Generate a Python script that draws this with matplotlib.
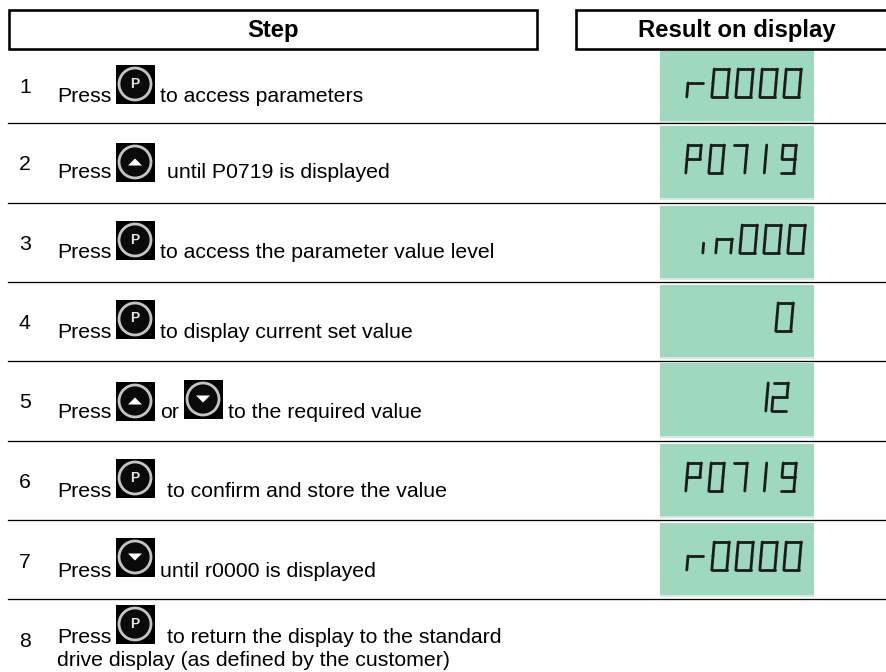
import matplotlib
matplotlib.use('Agg')
import matplotlib.pyplot as plt
from matplotlib.patches import Rectangle, Circle, Polygon

plt.rcParams['font.family'] = ['Liberation Sans', 'DejaVu Sans']

step_numbers = ['1', '2', '3', '4', '5', '6', '7', '8']
step_texts = [
    'to access parameters',
    'until P0719 is displayed',
    'to access the parameter value level',
    'to display current set value',
    'to the required value',
    'to confirm and store the value',
    'until r0000 is displayed',
    'to return the display to the standard',
]
step_icons = [['P'], ['up'], ['P'], ['P'], ['up', 'down'], ['P'], ['down'], ['P']]
last_line = 'drive display (as defined by the customer)'
display_values = ['r0000', 'P0719', 'in000', '0', '12', 'P0719', 'r0000']
headers = ['Step', 'Result on display']

# pixel layout, y goes down
W, H = 886, 672
num_base = [93, 170, 250, 329, 408, 488, 568, 647]
text_base = [102, 178, 258, 338, 418, 497, 577, 643]
icon_top = [65, 143, 221, 300, 382, 459, 538, 605]
text_x = [160, 167, 160, 160, 228, 167, 160, 167]
row_lines = [123, 203, 282, 361, 441, 520, 599]
green_top = [50, 126, 206, 285, 363, 444, 523]
green_bot = [122, 199, 279, 358, 437, 517, 596]
digit_top = [69, 145, 225, 303, 383, 463, 542]
digit_x = [
    [686, 711, 735, 759, 783],
    [685, 708, 731, 757, 780],
    [702, 715, 739, 763, 787],
    [775],
    [758, 771],
    [685, 708, 731, 757, 780],
    [686, 711, 735, 759, 783],
]
digit_w = [20, 18, 20, 20, 19, 18, 20]

GREEN = '#9dd8bf'
FS = 15.3

# seven segments, x from 0 to 1, y from 0 (top) to 2 (bottom)
SEGS = {
    'a': [(0, 0), (1, 0)], 'b': [(1, 0), (1, 1)], 'c': [(1, 1), (1, 2)],
    'd': [(0, 2), (1, 2)], 'e': [(0, 1), (0, 2)], 'f': [(0, 0), (0, 1)],
    'g': [(0, 1), (1, 1)], 'h': [(0.5, 0), (0.5, 1)], 'j': [(0.5, 1), (0.5, 2)],
    'k': [(0, 1.3), (0, 2)],
}
GLYPHS = {
    '0': 'abcdef', '1': 'hj', '2': 'abged', '7': 'abc', '9': 'abcdfg',
    'P': 'abefg', 'r': 'eg', 'n': 'egc', 'i': 'k',
}

fig = plt.figure(figsize=(W / 100, H / 100), dpi=100)
ax = fig.add_axes([0, 0, 1, 1])
ax.set_xlim(0, W)
ax.set_ylim(H, 0)
ax.axis('off')


def px(n):
    return n * 72 / 100


def draw_icon(x, y, kind):
    s = 39
    cx, cy = x + s / 2 - 0.5, y + s / 2 - 0.5
    ax.add_patch(Rectangle((x, y), s, s, fc='black', ec='none', zorder=3))
    ax.add_patch(Circle((cx, cy), 16, fc='#0a0a0a', ec='#c4c4c4', lw=px(2.8), zorder=4))
    if kind == 'P':
        ax.text(cx, cy - 0.5, 'P', color='#e4e4e4', fontsize=10, fontweight='bold',
                ha='center', va='center', zorder=5)
    elif kind == 'up':
        ax.add_patch(Polygon([(cx - 7, cy + 3.5), (cx + 7, cy + 3.5), (cx, cy - 3.5)],
                             fc='white', ec='none', zorder=5))
    else:
        ax.add_patch(Polygon([(cx - 7, cy - 3.5), (cx + 7, cy - 3.5), (cx, cy + 3.5)],
                             fc='white', ec='none', zorder=5))


def draw_digit(x, top, w, ch):
    h = 14
    for seg in GLYPHS[ch]:
        (x0, y0), (x1, y1) = SEGS[seg]
        # slight slant to the right going up
        xs = [x + 2 + x0 * (w - 5) - (y0 - 1) * 1.2, x + 2 + x1 * (w - 5) - (y1 - 1) * 1.2]
        ys = [top + y0 * h, top + y1 * h]
        ax.plot(xs, ys, color='#1c1c1c', lw=px(2.8), solid_capstyle='round', zorder=3)


# header boxes
ax.add_patch(Rectangle((9.5, 9.5), 528, 39, fc='white', ec='black', lw=px(2.6), zorder=2))
ax.plot([886, 576.5, 576.5, 886], [9.5, 9.5, 48.5, 48.5], color='black', lw=px(2.6),
        solid_joinstyle='miter', zorder=2)
ax.text(273, 37, headers[0], fontsize=17.2, fontweight='bold', ha='center', va='baseline')
ax.text(736.5, 37, headers[1], fontsize=17.2, fontweight='bold', ha='center', va='baseline')

# green display boxes, with the pale strip along the bottom
for i, value in enumerate(display_values):
    ax.add_patch(Rectangle((660, green_top[i]), 154, green_bot[i] - green_top[i],
                           fc=GREEN, ec='none', zorder=1))
    ax.add_patch(Rectangle((660, green_bot[i] - 1), 154, 2, fc='#d2ecdf', ec='none', zorder=1))
    for ch, dx in zip(value, digit_x[i]):
        draw_digit(dx, digit_top[i], digit_w[i], ch)

for y in row_lines:
    ax.plot([8, W], [y, y], color='black', lw=px(1.3), zorder=2)

# steps
for i, num in enumerate(step_numbers):
    ax.text(19, num_base[i], num, fontsize=FS, ha='left', va='baseline')
    ax.text(57, text_base[i], 'Press', fontsize=FS, ha='left', va='baseline')
    ax.text(text_x[i], text_base[i], step_texts[i], fontsize=FS, ha='left', va='baseline')
    draw_icon(116, icon_top[i], step_icons[i][0])
    if len(step_icons[i]) > 1:
        ax.text(160, text_base[i], 'or', fontsize=FS, ha='left', va='baseline')
        draw_icon(184, icon_top[i] - 2, step_icons[i][1])
ax.text(57, 666, last_line, fontsize=FS, ha='left', va='baseline')

fig.savefig('out.png', dpi=100)
